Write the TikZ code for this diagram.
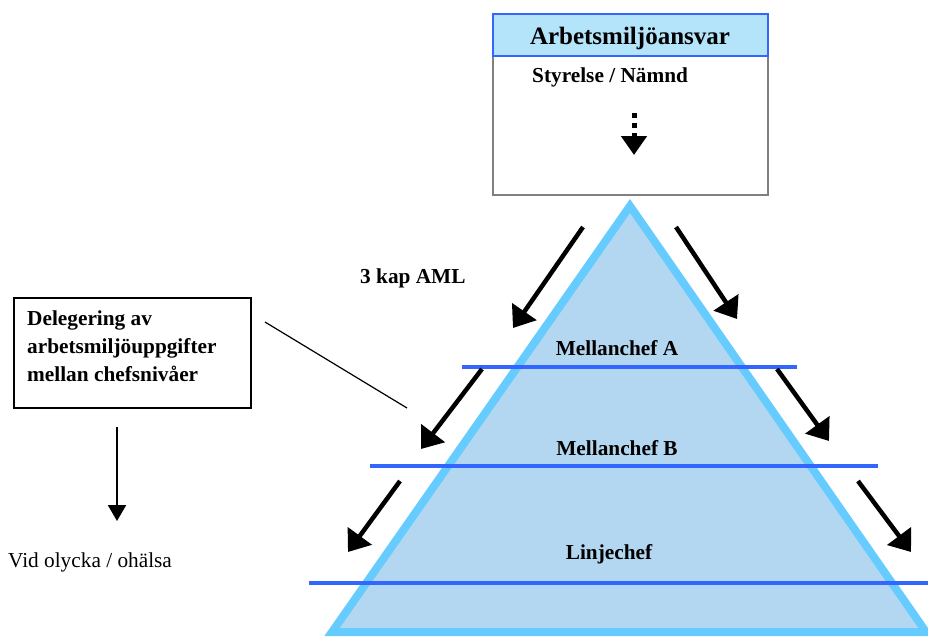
\documentclass[tikz,border=0pt]{standalone}
\usepackage{fontspec}
\setmainfont{Liberation Serif}
\usetikzlibrary{arrows.meta}
\definecolor{tribg}{RGB}{179,215,240}
\definecolor{triedge}{RGB}{102,204,255}
\definecolor{lvl}{RGB}{51,102,255}
\definecolor{hdrfill}{RGB}{180,228,250}
\definecolor{boxgray}{RGB}{128,128,128}
\begin{document}
\begin{tikzpicture}[x=1pt,y=-1pt,
  lbl/.style={font=\fontsize{21.3}{28}\selectfont\bfseries, inner sep=0pt},
  plain/.style={font=\fontsize{21.3}{28}\selectfont, inner sep=0pt},
  hdrtext/.style={font=\fontsize{25}{30}\selectfont\bfseries, inner sep=0pt},
  level/.style={draw=lvl, line width=3.5pt},
  bigarrow/.style={draw=black, line width=4.5pt, -{Triangle[length=20pt,width=29pt]}},
  thinarrow/.style={draw=black, line width=2pt, -{Triangle[length=16pt,width=18pt]}},
  dotarrow/.style={draw=black, line width=5pt, dash pattern=on 5pt off 5pt, -{Triangle[length=19pt,width=25pt]}},
  frame/.style={inner sep=0pt, anchor=north west}
]
\useasboundingbox (0,0) rectangle (928,638);

% pyramid
\coordinate (apex) at (630,206);
\coordinate (bright) at (926,632);
\coordinate (bleft) at (332,632);
\filldraw[fill=tribg, draw=triedge, line width=8pt, line join=miter] (apex) -- (bright) -- (bleft) -- cycle;

% level lines
\coordinate (lAl) at (462,367); \coordinate (lAr) at (797,367);
\coordinate (lBl) at (370,466); \coordinate (lBr) at (878,466);
\coordinate (lCl) at (309,583); \coordinate (lCr) at (928,583);
\draw[level] (lAl) -- (lAr);
\draw[level] (lBl) -- (lBr);
\draw[level] (lCl) -- (lCr);

% level labels
\node[lbl, anchor=base] (mA) at (617,355) {Mellanchef A};
\node[lbl, anchor=base] (mB) at (617,455) {Mellanchef B};
\node[lbl, anchor=base] (lin) at (609,559) {Linjechef};
\node[lbl, anchor=base west] (aml) at (360,283) {3 kap AML};

% top box
\node[frame, draw=boxgray, line width=2pt, minimum width=275pt, minimum height=181pt] (topbox) at (492,13) {};
\node[frame, fill=hdrfill, draw=lvl, line width=2pt, minimum width=275pt, minimum height=42pt] (hdr) at (492,13) {};
\node[hdrtext, anchor=base] (hdrlbl) at (630,44) {Arbetsmiljöansvar};
\node[lbl, anchor=base west] (styr) at (532,82) {Styrelse / Nämnd};
\coordinate (dotS) at (634,113);
\coordinate (dotE) at (634,155);
\draw[dotarrow] (dotS) -- (dotE);

% big arrows
\coordinate (a1s) at (583,227); \coordinate (a1e) at (513,328);
\coordinate (a2s) at (676,227); \coordinate (a2e) at (737,319);
\coordinate (a3s) at (482,369); \coordinate (a3e) at (421,449);
\coordinate (a4s) at (777,369); \coordinate (a4e) at (829,441);
\coordinate (a5s) at (400,481); \coordinate (a5e) at (348,552);
\coordinate (a6s) at (858,481); \coordinate (a6e) at (911,552);
\draw[bigarrow] (a1s) -- (a1e);
\draw[bigarrow] (a2s) -- (a2e);
\draw[bigarrow] (a3s) -- (a3e);
\draw[bigarrow] (a4s) -- (a4e);
\draw[bigarrow] (a5s) -- (a5e);
\draw[bigarrow] (a6s) -- (a6e);

% delegation box
\node[frame, draw=black, line width=2pt, minimum width=237pt, minimum height=110pt] (delbox) at (13,297) {};
\node[lbl, anchor=north west, align=left] (deltext) at (27,310.5) {Delegering av\\arbetsmiljöuppgifter\\mellan chefsnivåer};
\coordinate (linkS) at (265,322);
\coordinate (linkE) at (407,408);
\draw[line width=1.2pt] (linkS) -- (linkE);

% accident arrow
\coordinate (accS) at (117,427);
\coordinate (accE) at (117,521);
\draw[thinarrow] (accS) -- (accE);
\node[plain, anchor=base west] (acc) at (8,567) {Vid olycka / ohälsa};
\end{tikzpicture}
\end{document}
